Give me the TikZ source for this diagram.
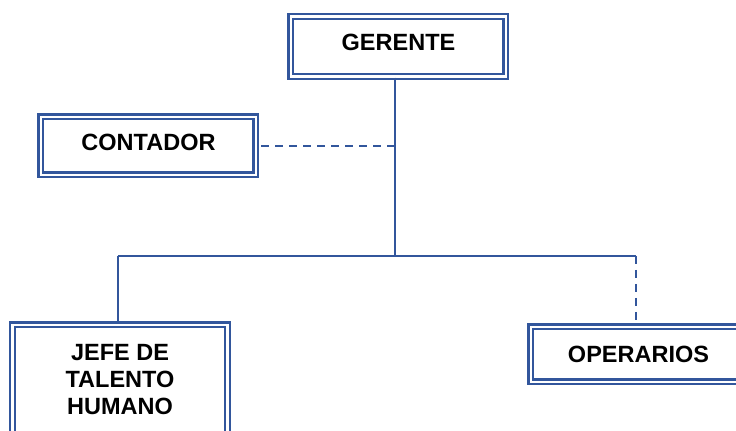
\documentclass[tikz,border=0pt]{standalone}
\usepackage{fontspec}
\setmainfont{Liberation Sans}
\definecolor{orgblue}{RGB}{50,86,156}

\begin{document}
\begin{tikzpicture}[x=0.5pt,y=-0.5pt,
    puesto/.style={draw=orgblue, double=white, line width=1.2pt, double distance=1.1pt,
      minimum width=107.5pt, inner sep=0pt, align=center,
      font=\bfseries\fontsize{11.75}{13.5}\selectfont},
    linea/.style={draw=orgblue, line width=0.9pt},
    lineapunteada/.style={linea, dash pattern=on 4pt off 3pt}]
    \useasboundingbox (0,0) rectangle (736,431);
    \clip (0,0) rectangle (736,431);

    % Cargos
    \node[puesto, minimum height=30pt, text depth=4pt] (gerente) at (398.5,46.5) {GERENTE};
    \node[puesto, minimum height=29pt, text depth=3.5pt] (contador) at (148.5,146) {CONTADOR};
    \node[puesto, minimum height=55pt] (jefe) at (120,380) {JEFE DE\\TALENTO\\HUMANO};
    \node[puesto, minimum height=27.5pt] (operarios) at (638.5,354.5) {OPERARIOS};

    % Puntos de union
    \coordinate (tronco) at (395,256);
    \coordinate (izq) at (118,256);
    \coordinate (der) at (636,256);

    % Lineas
    \draw[linea] (gerente.south -| tronco) -- (tronco);
    \draw[lineapunteada] ([xshift=2pt]contador.east) -- (contador.east -| tronco);
    \draw[linea] (izq) -- (der);
    \draw[linea] (izq) -- (izq |- jefe.north);
    \draw[lineapunteada] (der) -- (der |- operarios.north);
\end{tikzpicture}
\end{document}
